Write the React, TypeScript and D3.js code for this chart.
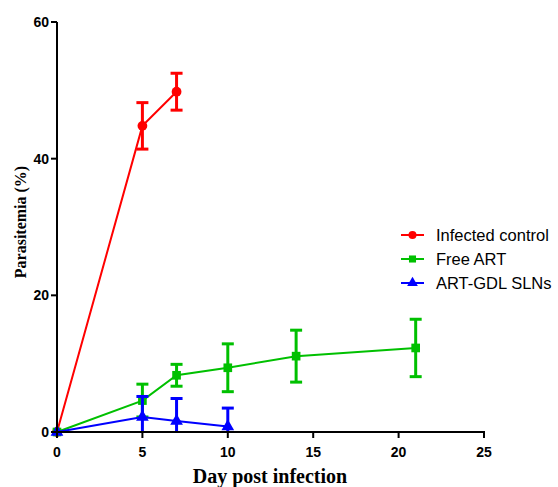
import React, { useEffect, useRef } from 'react';
import * as d3 from 'd3';

// Days sampled for each group
const controlDays = [0, 5, 7];
const controlMean = [0, 44.8, 49.8];
const controlErr = [0, 3.4, 2.7];

const freeDays = [0, 5, 7, 10, 14, 21];
const freeMean = [0, 4.6, 8.3, 9.4, 11.1, 12.3];
const freeErr = [0, 2.4, 1.6, 3.5, 3.8, 4.2];

const slnDays = [0, 5, 7, 10];
const slnMean = [0, 2.2, 1.6, 0.8];
const slnErr = [0, 3.0, 3.3, 2.7];

const xTicks = [0, 5, 10, 15, 20, 25];
const yTicks = [0, 20, 40, 60];

const SERIES = [
  { name: 'Infected control', color: '#ff0000', shape: 'circle', days: controlDays, mean: controlMean, err: controlErr },
  { name: 'Free ART', color: '#00c000', shape: 'square', days: freeDays, mean: freeMean, err: freeErr },
  { name: 'ART-GDL SLNs', color: '#0000ff', shape: 'triangle', days: slnDays, mean: slnMean, err: slnErr },
];

const App = () => {
  const ref = useRef<SVGSVGElement>(null);

  useEffect(() => {
    const svg = d3.select(ref.current);
    svg.selectAll('*').remove();

    const x = d3.scaleLinear().domain([0, 25]).range([57, 484]);
    const y = d3.scaleLinear().domain([0, 60]).range([432, 22]);

    const symbols: Record<string, d3.SymbolType> = {
      circle: d3.symbolCircle,
      square: d3.symbolSquare,
      triangle: d3.symbolTriangle,
    };

    // Series: lines, error bars, markers
    SERIES.forEach(s => {
      const pts = s.days.map((d, i) => ({ d, m: s.mean[i], e: s.err[i] }));
      const g = svg.append('g');

      g.append('path')
        .datum(pts)
        .attr('fill', 'none')
        .attr('stroke', s.color)
        .attr('stroke-width', 2)
        .attr('d', d3.line<any>().x(p => x(p.d)).y(p => y(p.m)));

      pts.filter(p => p.e > 0).forEach(p => {
        const top = y(p.m + p.e);
        const bot = y(Math.max(0, p.m - p.e));
        const cx = x(p.d);
        g.append('line').attr('x1', cx).attr('x2', cx).attr('y1', top).attr('y2', bot)
          .attr('stroke', s.color).attr('stroke-width', 3);
        g.append('line').attr('x1', cx - 6).attr('x2', cx + 6).attr('y1', top).attr('y2', top)
          .attr('stroke', s.color).attr('stroke-width', 3);
        if (p.m - p.e > 0) {
          g.append('line').attr('x1', cx - 6).attr('x2', cx + 6).attr('y1', bot).attr('y2', bot)
            .attr('stroke', s.color).attr('stroke-width', 3);
        }
      });

      g.selectAll('.pt')
        .data(pts)
        .enter().append('path')
        .attr('transform', p => `translate(${x(p.d)},${y(p.m)})`)
        .attr('d', d3.symbol().type(symbols[s.shape]).size(s.shape === 'triangle' ? 70 : 75)())
        .attr('fill', s.color);
    });

    // Axes
    const axisG = svg.append('g');
    axisG.append('line').attr('x1', x(0)).attr('x2', x(0)).attr('y1', y(0) + 1).attr('y2', y(60))
      .attr('stroke', '#000').attr('stroke-width', 2);
    axisG.append('line').attr('x1', x(0) - 1).attr('x2', x(25) + 1).attr('y1', y(0)).attr('y2', y(0))
      .attr('stroke', '#000').attr('stroke-width', 2);

    yTicks.forEach(t => {
      axisG.append('line').attr('x1', x(0) - 6).attr('x2', x(0)).attr('y1', y(t)).attr('y2', y(t))
        .attr('stroke', '#000').attr('stroke-width', 2);
      axisG.append('text')
        .attr('x', x(0) - 8).attr('y', y(t)).attr('dy', '0.36em')
        .attr('text-anchor', 'end')
        .style('font-family', 'Liberation Sans, Arial, sans-serif')
        .style('font-weight', 'bold').style('font-size', '14px')
        .text(t);
    });

    xTicks.forEach(t => {
      axisG.append('line').attr('x1', x(t)).attr('x2', x(t)).attr('y1', y(0)).attr('y2', y(0) + 6)
        .attr('stroke', '#000').attr('stroke-width', 2);
      axisG.append('text')
        .attr('x', x(t)).attr('y', 457)
        .attr('text-anchor', 'middle')
        .style('font-family', 'Liberation Sans, Arial, sans-serif')
        .style('font-weight', 'bold').style('font-size', '14px')
        .text(t);
    });

    // Axis titles
    svg.append('text')
      .attr('transform', 'translate(26,222) rotate(-90)')
      .attr('text-anchor', 'middle')
      .style('font-family', 'Liberation Serif, Times New Roman, serif')
      .style('font-weight', 'bold').style('font-size', '16px')
      .text('Parasitemia (%)');

    svg.append('text')
      .attr('x', 270).attr('y', 483)
      .attr('text-anchor', 'middle')
      .style('font-family', 'Liberation Serif, Times New Roman, serif')
      .style('font-weight', 'bold').style('font-size', '20px')
      .text('Day post infection');

    // Legend
    const legend = svg.append('g').attr('transform', 'translate(401,235)');
    SERIES.forEach((s, i) => {
      const item = legend.append('g').attr('transform', `translate(0,${i * 24})`);
      item.append('line').attr('x1', 0).attr('x2', 23).attr('y1', 0).attr('y2', 0)
        .attr('stroke', s.color).attr('stroke-width', 2);
      item.append('path')
        .attr('transform', 'translate(11.5,0)')
        .attr('d', d3.symbol().type(symbols[s.shape]).size(50)())
        .attr('fill', s.color);
      item.append('text')
        .attr('x', 35).attr('y', 0).attr('dy', '0.36em')
        .style('font-family', 'Liberation Sans, Arial, sans-serif')
        .style('font-size', '16.5px')
        .text(s.name);
    });
  }, []);

  return <svg ref={ref} width={558} height={487} style={{ position: 'absolute', left: 0, top: 0, background: '#fff' }} />;
};

export default App;
